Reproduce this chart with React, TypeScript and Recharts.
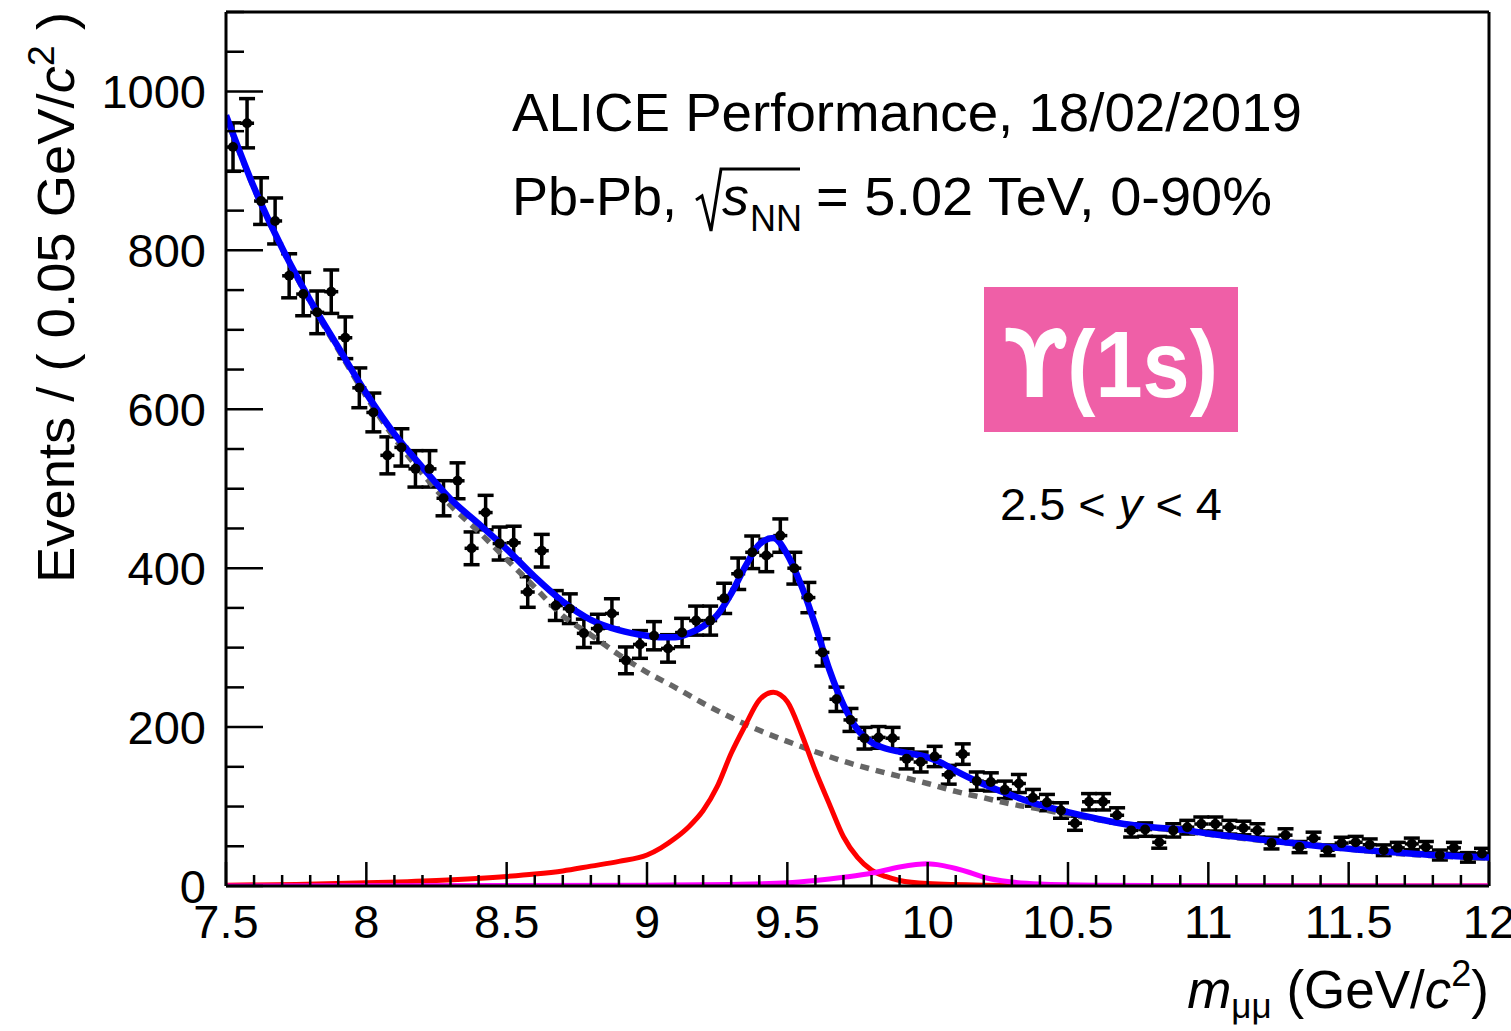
import React from "react"
import {
  ComposedChart,
  Line,
  Scatter,
  ErrorBar,
  XAxis,
  YAxis,
  ReferenceLine,
} from "recharts"

const FONT = '"Liberation Sans", Arial, Helvetica, sans-serif'

// histogram: 90 bins of 0.05 GeV/c2 between 7.5 and 12
const BIN_LOW = 7.5
const BIN_WIDTH = 0.05
const COUNTS = [
  930, 960, 862, 837, 768, 745, 722, 748, 690, 627,
  596, 542, 552, 525, 525, 488, 510, 425, 470, 431,
  432, 370, 422, 353, 349, 318, 324, 343, 284, 304,
  315, 299, 319, 334, 334, 362, 393, 420, 416, 441,
  400, 363, 294, 235, 209, 186, 187, 186, 160, 156,
  163, 140, 166, 132, 131, 121, 129, 111, 105, 95,
  79, 106, 106, 89, 70, 71, 55, 70, 74, 78,
  78, 74, 73, 70, 54, 64, 49, 60, 45, 54,
  55, 52, 45, 48, 53, 49, 39, 48, 36, 41,
]

// fit curves: [mass, events]
const TOTAL_FIT = [
  [7.5, 970], [7.6, 879], [7.7, 803], [7.8, 737], [7.9, 678], [8.0, 620],
  [8.1, 569], [8.2, 527], [8.3, 487], [8.4, 456], [8.5, 424], [8.6, 389],
  [8.7, 358], [8.8, 335], [8.9, 322], [9.0, 315], [9.05, 313], [9.1, 313],
  [9.15, 318], [9.2, 327], [9.25, 341], [9.3, 368], [9.35, 402], [9.4, 430],
  [9.45, 438], [9.5, 417], [9.55, 378], [9.6, 328], [9.65, 272], [9.7, 228],
  [9.75, 197], [9.8, 181], [9.85, 173], [9.9, 169], [9.95, 166], [10.0, 162],
  [10.05, 155], [10.1, 145], [10.2, 128], [10.3, 114], [10.4, 102], [10.5, 93],
  [10.6, 85], [10.7, 78], [10.8, 74], [10.9, 71], [11.0, 66], [11.2, 58],
  [11.4, 50], [11.6, 44], [11.8, 39], [12.0, 36],
]

const BACKGROUND = [
  [7.5, 968], [7.6, 878], [7.7, 802], [7.8, 735], [7.9, 675], [8.0, 616],
  [8.1, 564], [8.2, 519], [8.3, 479], [8.4, 446], [8.5, 411], [8.6, 376],
  [8.7, 340], [8.8, 316], [8.9, 291], [9.0, 269], [9.1, 250], [9.2, 230],
  [9.3, 212], [9.4, 196], [9.5, 182], [9.6, 169], [9.7, 157], [9.8, 147],
  [9.9, 138], [10.0, 129], [10.1, 119], [10.2, 111], [10.3, 103], [10.4, 97],
  [10.5, 90], [10.6, 84], [10.7, 78], [10.8, 73], [10.9, 70], [11.0, 65],
  [11.2, 57], [11.4, 50], [11.6, 43], [11.8, 38], [12.0, 35],
]

const UPS_1S = [
  [7.5, 1], [7.75, 2], [8.0, 4], [8.25, 7], [8.5, 12], [8.6, 15], [8.7, 19],
  [8.8, 25], [8.9, 31], [9.0, 39], [9.05, 48], [9.1, 60], [9.15, 75],
  [9.2, 95], [9.25, 125], [9.3, 167], [9.35, 202], [9.4, 234], [9.45, 244],
  [9.5, 232], [9.55, 192], [9.6, 145], [9.65, 103], [9.7, 62], [9.75, 36],
  [9.8, 20], [9.85, 12], [9.9, 7], [10.0, 3], [10.2, 1], [10.6, 0], [12.0, 0],
]

const UPS_2S = [
  [7.5, 0], [8.5, 0.5], [9.0, 1], [9.3, 2], [9.5, 4], [9.6, 7], [9.7, 11],
  [9.8, 16], [9.9, 24], [10.0, 28], [10.05, 26], [10.1, 22], [10.15, 17],
  [10.2, 11], [10.3, 5], [10.4, 2.5], [10.6, 1], [11.0, 0.3], [12.0, 0],
]

const X_MAJOR = [7.5, 8, 8.5, 9, 9.5, 10, 10.5, 11, 11.5, 12]
const Y_MAJOR = [0, 200, 400, 600, 800, 1000]
const X_MINOR_STEP = 0.1
const Y_MINOR_STEP = 50

const xTicks: number[] = []
for (let i = 0; i <= 45; i++) xTicks.push(Math.round((7.5 + i * X_MINOR_STEP) * 10) / 10)
const yTicks: number[] = []
for (let v = 0; v <= 1100; v += Y_MINOR_STEP) yTicks.push(v)

const points = COUNTS.map((n, i) => ({
  x: BIN_LOW + BIN_WIDTH * (i + 0.5),
  y: n,
  ex: BIN_WIDTH / 2,
  ey: Math.sqrt(n), // poisson errors
}))

const toRows = (arr: number[][]) => arr.map(([x, y]) => ({ x, y }))

function XTick(props: any) {
  const { x, y, payload } = props
  const v = payload.value
  const major = X_MAJOR.some((m) => Math.abs(m - v) < 1e-6)
  return (
    <g>
      <line x1={x} y1={y} x2={x} y2={y - (major ? 24 : 11)} stroke="#000" strokeWidth={2.5} />
      {major && (
        <text x={x} y={y + 52} textAnchor="middle" fontSize={47} fontFamily={FONT} fill="#000">
          {String(v)}
        </text>
      )}
    </g>
  )
}

function YTick(props: any) {
  const { x, y, payload } = props
  const v = payload.value
  const major = Y_MAJOR.includes(v)
  return (
    <g>
      <line x1={x} y1={y} x2={x + (major ? 37 : 18)} y2={y} stroke="#000" strokeWidth={2.5} />
      {major && (
        <text x={x - 20} y={y + 17} textAnchor="end" fontSize={47} fontFamily={FONT} fill="#000">
          {String(v)}
        </text>
      )}
    </g>
  )
}

const lineCommon = {
  dataKey: "y",
  type: "monotone" as const,
  dot: false,
  activeDot: false,
  isAnimationActive: false,
}

export default function App() {
  return (
    <div style={{ position: "absolute", left: 0, top: 0, width: 1511, height: 1031, background: "#fff" }}>
      <ComposedChart width={1511} height={1031} margin={{ top: 12, right: 22, bottom: 0, left: 0 }}>
        <XAxis
          dataKey="x"
          type="number"
          domain={[7.5, 12]}
          allowDataOverflow
          ticks={xTicks}
          interval={0}
          tickSize={0}
          tickMargin={0}
          tick={<XTick />}
          height={145}
          axisLine={{ stroke: "#000", strokeWidth: 3 }}
        />
        <YAxis
          type="number"
          domain={[0, 1100]}
          allowDataOverflow
          ticks={yTicks}
          interval={0}
          tickSize={0}
          tickMargin={0}
          tick={<YTick />}
          width={226}
          axisLine={{ stroke: "#000", strokeWidth: 3 }}
        />
        <ReferenceLine y={1100} stroke="#000" strokeWidth={3} />
        <ReferenceLine x={12} stroke="#000" strokeWidth={3} />

        <Scatter
          data={points}
          dataKey="y"
          isAnimationActive={false}
          shape={(p: any) => <circle cx={p.cx} cy={p.cy} r={5} fill="#000" />}
        >
          <ErrorBar dataKey="ey" direction="y" width={8} stroke="#000" strokeWidth={3.5} />
          <ErrorBar dataKey="ex" direction="x" width={0} stroke="#000" strokeWidth={3.5} />
        </Scatter>

        <Line {...lineCommon} data={toRows(BACKGROUND)} stroke="#666666" strokeWidth={5.5} strokeDasharray="9 7" />
        <Line {...lineCommon} data={toRows(UPS_1S)} stroke="#ff0000" strokeWidth={5} />
        <Line {...lineCommon} data={toRows(UPS_2S)} stroke="#ff00ff" strokeWidth={5} />
        <Line {...lineCommon} data={toRows(TOTAL_FIT)} stroke="#0000ff" strokeWidth={6.5} />
      </ComposedChart>

      <svg
        width={1511}
        height={1031}
        style={{ position: "absolute", left: 0, top: 0, pointerEvents: "none" }}
        fontFamily={FONT}
      >
        {/* y axis title */}
        <text
          transform="translate(74,12) rotate(-90)"
          textAnchor="end"
          fontSize={52}
          fill="#000"
          textLength={571}
          lengthAdjust="spacingAndGlyphs"
        >
          Events / ( 0.05 GeV/<tspan fontStyle="italic">c</tspan>
          <tspan fontSize={36} dy={-20}>2</tspan>
          <tspan dy={20}> )</tspan>
        </text>

        {/* x axis title */}
        <text x={1489} y={1008} textAnchor="end" fontSize={53} fill="#000">
          <tspan fontStyle="italic">m</tspan>
          <tspan fontSize={35} dy={10}>μμ</tspan>
          <tspan dy={-10}> (GeV/</tspan>
          <tspan fontStyle="italic">c</tspan>
          <tspan fontSize={36} dy={-22}>2</tspan>
          <tspan dy={22}>)</tspan>
        </text>

        <text x={512} y={131} fontSize={54} fill="#000" textLength={790} lengthAdjust="spacingAndGlyphs">
          ALICE Performance, 18/02/2019
        </text>

        <text x={512} y={215} fontSize={54} fill="#000">Pb-Pb,</text>
        <polyline
          points="696,200 702,196 711,231 721,169 800,169"
          fill="none"
          stroke="#000"
          strokeWidth={3}
        />
        <text x={722} y={215} fontSize={54} fontStyle="italic" fill="#000">s</text>
        <text x={750} y={231} fontSize={36} fill="#000">NN</text>
        <text x={816} y={215} fontSize={54} fill="#000" textLength={456} lengthAdjust="spacingAndGlyphs">
          = 5.02 TeV, 0-90%
        </text>

        <rect x={984} y={287} width={254} height={145} fill="#ef5fa7" />
        <text
          x={1111}
          y={397}
          textAnchor="middle"
          fontSize={94}
          fontWeight="bold"
          fill="#fff"
          textLength={214}
          lengthAdjust="spacingAndGlyphs"
        >
          <tspan fontFamily={'"DejaVu Sans", sans-serif'}>ϒ</tspan>(1s)
        </text>

        <text x={1000} y={520} fontSize={44} fill="#000" textLength={222} lengthAdjust="spacingAndGlyphs">
          2.5 &lt; <tspan fontStyle="italic">y</tspan> &lt; 4
        </text>
      </svg>
    </div>
  )
}
